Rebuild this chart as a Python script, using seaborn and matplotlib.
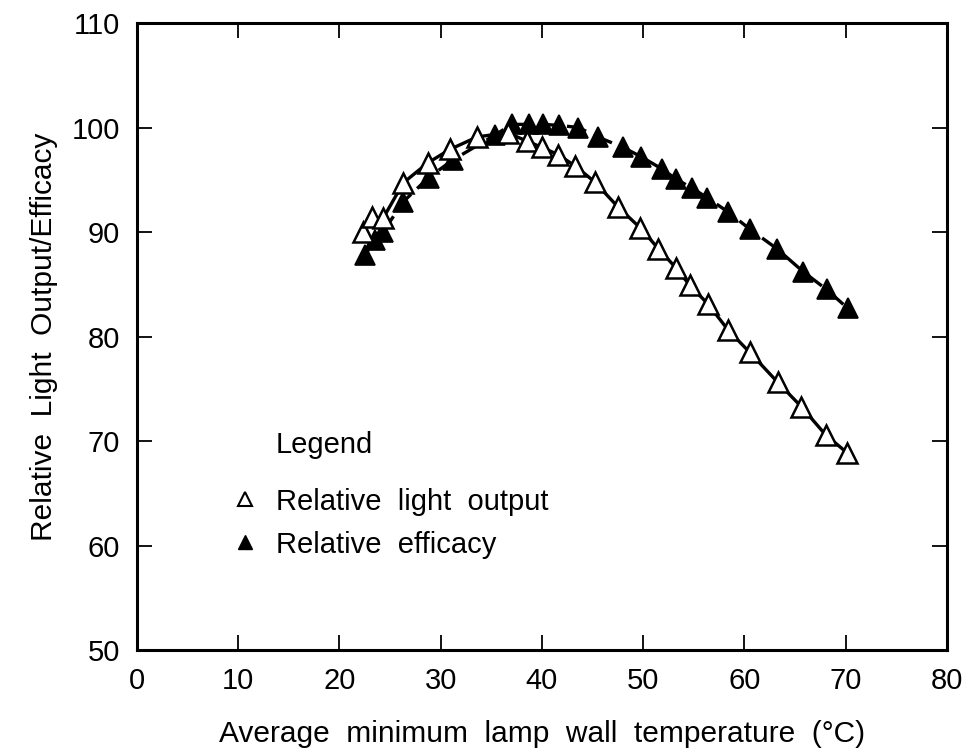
import matplotlib
matplotlib.use("Agg")
import matplotlib.pyplot as plt
import seaborn as sns
import pandas as pd
from matplotlib.lines import Line2D

# Data
light_temp = [22.3, 23.2, 24.3, 26.3, 28.7, 30.9, 33.6, 36.6, 38.5, 40.0, 41.6, 43.3,
              45.2, 47.5, 49.7, 51.5, 53.2, 54.6, 56.4, 58.4, 60.5, 63.3, 65.6, 68.0, 70.1]
light_output = [90.0, 91.4, 91.3, 94.7, 96.6, 97.9, 99.1, 99.5, 98.7, 98.1, 97.4, 96.3,
                94.8, 92.4, 90.4, 88.4, 86.6, 84.9, 83.1, 80.6, 78.5, 75.6, 73.3, 70.6, 68.9]

eff_temp = [22.5, 23.5, 24.3, 26.3, 28.8, 31.2, 35.4, 37.0, 38.7, 40.1, 41.7, 43.6,
            45.5, 48.0, 49.8, 51.9, 53.2, 54.8, 56.3, 58.4, 60.5, 63.2, 65.8, 68.1, 70.2]
efficacy = [87.8, 89.2, 90.0, 92.9, 95.2, 96.9, 99.3, 100.3, 100.3, 100.3, 100.2, 100.0,
            99.1, 98.1, 97.2, 96.0, 95.1, 94.2, 93.3, 91.9, 90.3, 88.4, 86.2, 84.5, 82.7]

x_ticks = [0, 10, 20, 30, 40, 50, 60, 70, 80]
y_ticks = [50, 60, 70, 80, 90, 100, 110]

sns.set_style("ticks")
plt.rcParams['font.family'] = ['Liberation Sans', 'DejaVu Sans']
for k in ["text.color", "axes.labelcolor", "xtick.color", "ytick.color", "axes.edgecolor"]:
    plt.rcParams[k] = "black"

fig = plt.figure(figsize=(9.7, 7.54), dpi=100)
ax = fig.add_axes([0.1412, 0.1379, 0.8351, 0.8316])

df_l = pd.DataFrame({"t": light_temp, "v": light_output})
df_e = pd.DataFrame({"t": eff_temp, "v": efficacy})

sns.lineplot(data=df_l, x="t", y="v", ax=ax, color="black", linewidth=2.4,
             marker="^", markersize=14, markerfacecolor="white",
             markeredgecolor="black", markeredgewidth=1.8, sort=True, zorder=3)
sns.lineplot(data=df_e, x="t", y="v", ax=ax, color="black", linewidth=2.4,
             linestyle=(0, (6, 2.5)),
             marker="^", markersize=14, markerfacecolor="black",
             markeredgecolor="black", markeredgewidth=1.2, sort=True, zorder=2)

ax.set_xlim(0, 80)
ax.set_ylim(50, 110)
ax.set_xticks(x_ticks)
ax.set_yticks(y_ticks)
ax.tick_params(direction="in", length=11, width=1.3, labelsize=21,
               top=True, right=True, pad=12)
for s in ax.spines.values():
    s.set_linewidth(2.2)
    s.set_visible(True)

ax.set_xlabel("Average  minimum  lamp  wall  temperature  (°C)", fontsize=21.5, labelpad=18)
ax.set_ylabel("Relative  Light  Output/Efficacy", fontsize=21.5, labelpad=10)

ax.text(13.7, 69.6, "Legend", fontsize=21, ha="left", va="center")
handles = [
    Line2D([], [], linestyle="none", marker="^", markersize=9.5,
           markerfacecolor="white", markeredgecolor="black", markeredgewidth=1.5),
    Line2D([], [], linestyle="none", marker="^", markersize=9.5,
           markerfacecolor="black", markeredgecolor="black"),
]
ax.legend(handles, ["Relative  light  output", "Relative  efficacy"],
          loc="upper left", bbox_to_anchor=(0.083, 0.301), frameon=False,
          fontsize=21, handlelength=1.0, handletextpad=0.56, labelspacing=0.52)

fig.savefig("out.png", dpi=100)
